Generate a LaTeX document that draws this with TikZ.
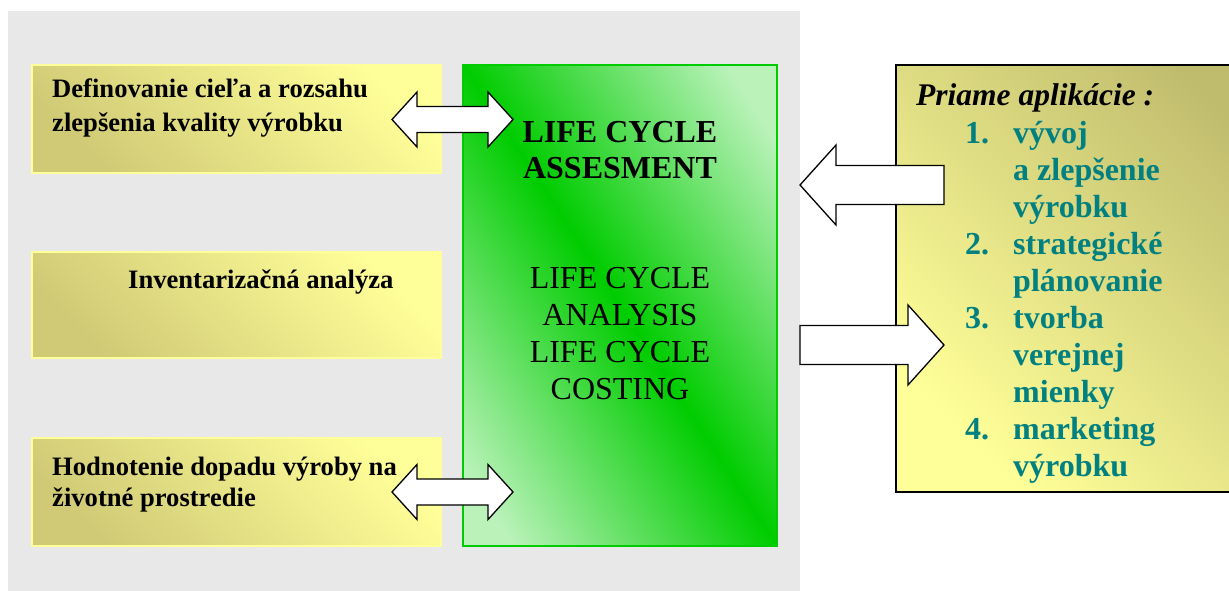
\documentclass[tikz,border=0pt]{standalone}
\usepackage{fontspec}
\setmainfont{Liberation Serif}
\definecolor{bggray}{RGB}{232,232,232}
\definecolor{olive1}{RGB}{208,202,118}
\definecolor{ylight}{RGB}{255,255,153}
\definecolor{olive2}{RGB}{192,188,110}
\definecolor{gmid}{RGB}{0,204,0}
\definecolor{glight}{RGB}{186,242,186}
\definecolor{teal1}{RGB}{0,128,128}
\tikzset{
  ybox/.style={draw=ylight, line width=1.5pt, left color=olive1, right color=ylight, shading angle=135},
  blockarrow/.style={draw=black, fill=white, line width=1.3pt, line join=miter},
  lefttxt/.style={anchor=base west, inner sep=0pt, font=\fontsize{26.6}{32}\selectfont\bfseries},
  gtxt/.style={anchor=base, inner sep=0pt, font=\fontsize{32}{37}\selectfont},
  listtxt/.style={anchor=base west, inner sep=0pt, text=teal1, font=\fontsize{32}{37}\selectfont\bfseries},
}
\begin{document}
\begin{tikzpicture}[x=1pt,y=-1pt]
\useasboundingbox (0,0) rectangle (1229,590);
\clip (0,0) rectangle (1229,590);
\fill[white] (0,0) rectangle (1229,590);
\fill[bggray] (8,11) rectangle (800,592);
% left boxes
\path[ybox] (32,65) rectangle (441,173);
\path[ybox] (32,252) rectangle (441,358);
\path[ybox] (32,438) rectangle (441,546);
\node[lefttxt] (t1a) at (52,97) {Definovanie cieľa a rozsahu};
\node[lefttxt] (t1b) at (52,131) {zlepšenia kvality výrobku};
\node[lefttxt] (t2) at (128,288) {Inventarizačná analýza};
\node[lefttxt] (t3a) at (52,475) {Hodnotenie dopadu výroby na};
\node[lefttxt] (t3b) at (52,506) {životné prostredie};
% green box
\begin{scope}
\clip (463,65) rectangle (777,546);
\fill[glight] (463,65) rectangle (777,546);
\begin{scope}[transform canvas={shift={(620,305.5)}, rotate=33.1}]
\shade[left color=glight, right color=glight, middle color=gmid] (-220,-400) rectangle (220,400);
\end{scope}
\end{scope}
\draw[draw=gmid, line width=1.2pt] (463,65) rectangle (777,546);
\node[gtxt, font=\fontsize{32}{37}\selectfont\bfseries] (g1) at (620,142) {LIFE CYCLE};
\node[gtxt, font=\fontsize{32}{37}\selectfont\bfseries] (g2) at (620,178) {ASSESMENT};
\node[gtxt] (g3) at (620,288) {LIFE CYCLE};
\node[gtxt] (g4) at (620,325) {ANALYSIS};
\node[gtxt] (g5) at (620,362) {LIFE CYCLE};
\node[gtxt] (g6) at (620,399) {COSTING};
% right box
\path[draw=black, line width=1.3pt, left color=ylight, right color=olive2, shading angle=135] (896,65) rectangle (1300,492);
\node[anchor=base west, inner sep=0pt, font=\fontsize{31.5}{37}\selectfont\bfseries\itshape] (pa) at (916,105) {Priame aplikácie :};
\node[listtxt] (n1) at (965,143) {1.};
\node[listtxt] (l1) at (1013,143) {vývoj};
\node[listtxt] (l2) at (1013,180) {a zlepšenie};
\node[listtxt] (l3) at (1013,217) {výrobku};
\node[listtxt] (n2) at (965,254) {2.};
\node[listtxt] (l4) at (1013,254) {strategické};
\node[listtxt] (l5) at (1013,291) {plánovanie};
\node[listtxt] (n3) at (965,328) {3.};
\node[listtxt] (l6) at (1013,328) {tvorba};
\node[listtxt] (l7) at (1013,365) {verejnej};
\node[listtxt] (l8) at (1013,402) {mienky};
\node[listtxt] (n4) at (965,439) {4.};
\node[listtxt] (l9) at (1013,439) {marketing};
\node[listtxt] (l10) at (1013,476) {výrobku};
% double arrows
\coordinate (da1) at (392,119.5);
\coordinate (da2) at (392,492);
\foreach \c in {da1,da2}{
  \draw[blockarrow] (\c) -- ++(25,-27.5) -- ++(0,14.5) -- ++(71,0) -- ++(0,-14.5) -- ++(25,27.5)
     -- ++(-25,27.5) -- ++(0,-14.5) -- ++(-71,0) -- ++(0,14.5) -- cycle;
}
% right arrows
\coordinate (la) at (800,185);
\draw[blockarrow] (la) -- ++(36,-40) -- ++(0,20.5) -- ++(108,0) -- ++(0,39) -- ++(-108,0) -- ++(0,20.5) -- cycle;
\coordinate (ra) at (944,345);
\draw[blockarrow] (ra) -- ++(-36,-40) -- ++(0,20.5) -- ++(-108,0) -- ++(0,39) -- ++(108,0) -- ++(0,20.5) -- cycle;
\end{tikzpicture}
\end{document}
